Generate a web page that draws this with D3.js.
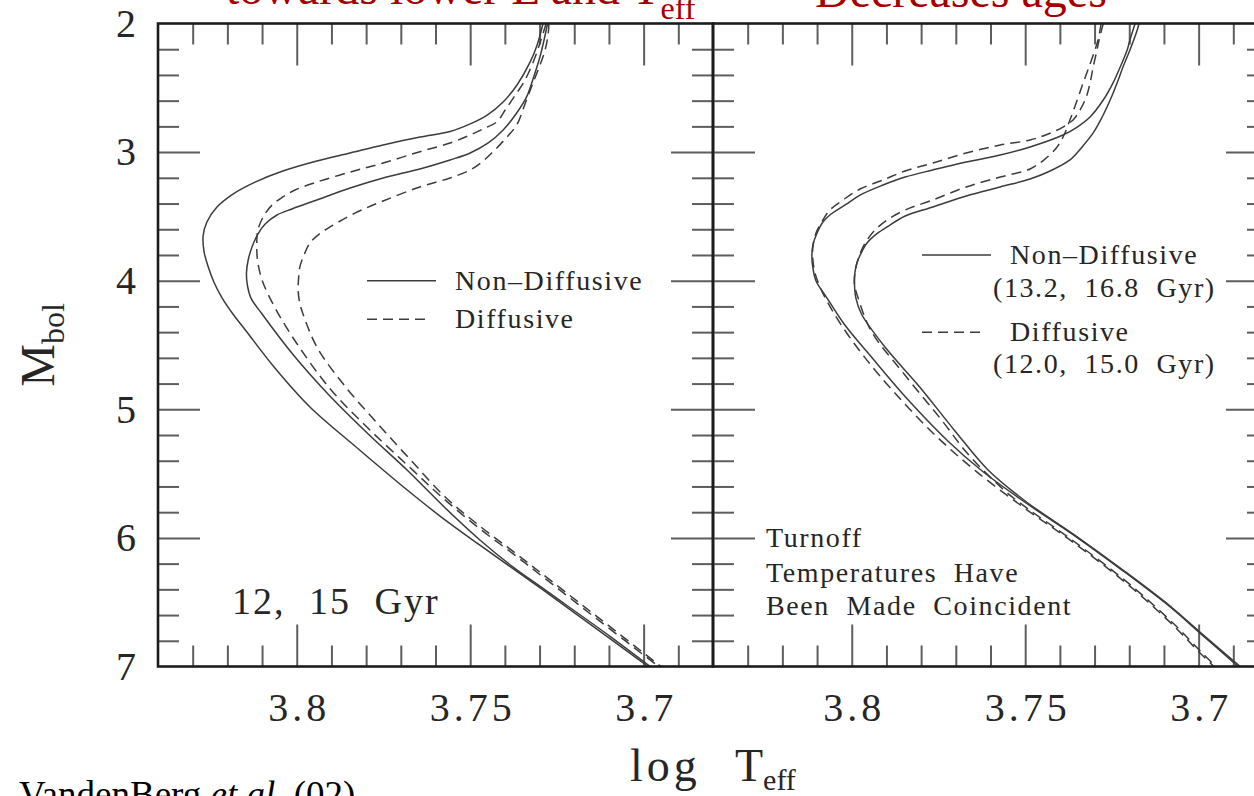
<!DOCTYPE html>
<html>
<head>
<meta charset="utf-8">
<script src="https://cdn.jsdelivr.net/npm/d3@7"></script>
<style>
  html, body { margin: 0; padding: 0; background: #fff; }
  svg { display: block; }
</style>
</head>
<body>
<svg id="chart" width="1254" height="796"></svg>
<script>
// Isochrones as [log Teff, Mbol] pairs, from the giant branch down to the lower main sequence.

// Left panel: 12 and 15 Gyr, non-diffusive vs diffusive
const leftNonDiff12 = [
  [3.7290,2.000],[3.7307,2.167],[3.7327,2.299],[3.7365,2.478],[3.7405,2.610],[3.7451,2.712],
  [3.7500,2.781],[3.7558,2.840],[3.7645,2.883],[3.7751,2.945],[3.7846,3.007],[3.7942,3.069],
  [3.8040,3.147],[3.8120,3.233],[3.8184,3.326],[3.8230,3.427],[3.8259,3.544],[3.8270,3.652],
  [3.8267,3.777],[3.8256,3.886],[3.8239,4.010],[3.8215,4.135],[3.8184,4.259],[3.8146,4.391],
  [3.8063,4.679],[3.7962,4.982],[3.7829,5.293],[3.7685,5.620],[3.7587,5.830],[3.7477,6.047],
  [3.7290,6.405],[3.7103,6.771],[3.6987,7.000]
];
const leftNonDiff15 = [
  [3.7277,2.000],[3.7287,2.128],[3.7299,2.260],[3.7316,2.408],[3.7337,2.569],[3.7368,2.704],
  [3.7405,2.828],[3.7448,2.929],[3.7500,3.007],[3.7558,3.061],[3.7645,3.131],[3.7751,3.201],
  [3.7846,3.279],[3.7942,3.372],[3.8014,3.442],[3.8057,3.489],[3.8091,3.559],[3.8112,3.637],
  [3.8129,3.738],[3.8140,3.839],[3.8145,3.940],[3.8142,4.041],[3.8132,4.135],[3.8100,4.259],
  [3.8012,4.570],[3.7910,4.881],[3.7794,5.192],[3.7682,5.472],[3.7572,5.767],[3.7472,6.016],
  [3.7380,6.219],[3.7284,6.405],[3.7094,6.771],[3.6981,7.000]
];
const leftDiff12 = [
  [3.7281,2.000],[3.7296,2.128],[3.7316,2.284],[3.7345,2.455],[3.7374,2.572],[3.7399,2.673],
  [3.7423,2.764],[3.7463,2.820],[3.7500,2.867],[3.7558,2.929],[3.7645,2.997],[3.7751,3.085],
  [3.7846,3.155],[3.7942,3.233],[3.8005,3.295],[3.8040,3.349],[3.8071,3.411],[3.8097,3.505],
  [3.8112,3.606],[3.8115,3.684],[3.8115,3.777],[3.8112,3.862],[3.8099,4.002],[3.8063,4.209],
  [3.7992,4.520],[3.7899,4.856],[3.7787,5.166],[3.7664,5.477],[3.7582,5.682],[3.7479,5.915],
  [3.7377,6.122],[3.7279,6.327],[3.7131,6.638],[3.6957,7.000]
];
const leftDiff15 = [
  [3.7273,2.000],[3.7275,2.074],[3.7284,2.206],[3.7301,2.338],[3.7319,2.463],[3.7342,2.626],
  [3.7366,2.789],[3.7399,2.898],[3.7434,2.997],[3.7466,3.077],[3.7500,3.139],[3.7558,3.201],
  [3.7645,3.271],[3.7751,3.380],[3.7832,3.474],[3.7904,3.582],[3.7939,3.645],[3.7962,3.707],
  [3.7979,3.800],[3.7991,3.893],[3.7995,3.995],[3.7996,4.072],[3.7992,4.166],[3.7982,4.259],
  [3.7941,4.520],[3.7858,4.830],[3.7766,5.114],[3.7670,5.399],[3.7572,5.682],[3.7469,5.915],
  [3.7368,6.122],[3.7270,6.327],[3.7122,6.638],[3.6950,7.000]
];

// Right panel: same models with turnoff temperatures made coincident
const rightNonDiff132 = [
  [3.7183,2.000],[3.7198,2.128],[3.7206,2.206],[3.7226,2.338],[3.7247,2.463],[3.7275,2.595],
  [3.7313,2.727],[3.7350,2.805],[3.7391,2.867],[3.7486,2.960],[3.7572,3.023],[3.7670,3.077],
  [3.7766,3.139],[3.7846,3.194],[3.7910,3.256],[3.7976,3.334],[3.8019,3.411],[3.8063,3.489],
  [3.8083,3.544],[3.8100,3.629],[3.8112,3.722],[3.8115,3.808],[3.8112,3.901],[3.8103,4.002],
  [3.8072,4.131],[3.8022,4.337],[3.7942,4.598],[3.7843,4.910],[3.7723,5.246],[3.7624,5.480],
  [3.7506,5.713],[3.7348,6.001],[3.7221,6.250],[3.7082,6.537],[3.6996,6.740],[3.6886,7.000]
];
const rightNonDiff168 = [
  [3.7172,2.000],[3.7177,2.051],[3.7198,2.206],[3.7218,2.338],[3.7235,2.463],[3.7255,2.595],
  [3.7278,2.727],[3.7304,2.851],[3.7336,2.960],[3.7371,3.061],[3.7428,3.147],[3.7486,3.209],
  [3.7572,3.271],[3.7670,3.341],[3.7766,3.427],[3.7846,3.497],[3.7898,3.582],[3.7933,3.645],
  [3.7956,3.707],[3.7973,3.785],[3.7985,3.862],[3.7991,3.940],[3.7992,4.033],[3.7988,4.135],
  [3.7972,4.259],[3.7903,4.520],[3.7803,4.830],[3.7703,5.166],[3.7607,5.472],[3.7500,5.713],
  [3.7345,6.001],[3.7218,6.250],[3.7079,6.537],[3.6993,6.740],[3.6880,7.000]
];
const rightDiff120 = [
  [3.7275,2.000],[3.7287,2.128],[3.7293,2.206],[3.7304,2.338],[3.7313,2.463],[3.7324,2.572],
  [3.7342,2.673],[3.7362,2.750],[3.7391,2.805],[3.7434,2.859],[3.7486,2.906],[3.7572,2.945],
  [3.7670,3.007],[3.7766,3.085],[3.7846,3.147],[3.7910,3.217],[3.7976,3.287],[3.8025,3.372],
  [3.8063,3.450],[3.8083,3.528],[3.8103,3.629],[3.8112,3.738],[3.8112,3.839],[3.8106,3.940],
  [3.8094,4.033],[3.8077,4.131],[3.8032,4.337],[3.7962,4.598],[3.7873,4.881],[3.7763,5.192],
  [3.7644,5.477],[3.7504,5.764],[3.7371,6.016],[3.7206,6.358],[3.7077,6.670],[3.6996,6.895],
  [3.6956,7.000]
];
const rightDiff150 = [
  [3.7281,2.000],[3.7290,2.128],[3.7299,2.206],[3.7316,2.338],[3.7333,2.463],[3.7350,2.595],
  [3.7371,2.750],[3.7388,2.867],[3.7408,2.960],[3.7443,3.054],[3.7486,3.131],[3.7572,3.194],
  [3.7670,3.271],[3.7766,3.372],[3.7846,3.450],[3.7898,3.528],[3.7933,3.606],[3.7956,3.684],
  [3.7973,3.769],[3.7985,3.862],[3.7991,3.940],[3.7992,4.033],[3.7982,4.131],[3.7944,4.391],
  [3.7849,4.726],[3.7740,5.087],[3.7665,5.348],[3.7561,5.628],[3.7497,5.764],[3.7365,6.016],
  [3.7200,6.358],[3.7071,6.670],[3.6990,6.895],[3.6950,7.000]
];

// Axis ticks and labels
const tempDomain = [3.84, 3.68];
const magDomain = [2, 7];
const tempMajor = [3.8, 3.75, 3.7];
const tempMinor = [3.83, 3.82, 3.81, 3.79, 3.78, 3.77, 3.76, 3.74, 3.73, 3.72, 3.71, 3.69];
const magLabels = [2, 3, 4, 5, 6, 7];
const magMajor = [3, 4, 5, 6];
const magMinor = [2.2, 2.4, 2.6, 2.8, 3.2, 3.4, 3.6, 3.8, 4.2, 4.4, 4.6, 4.8,
                  5.2, 5.4, 5.6, 5.8, 6.2, 6.4, 6.6, 6.8];

// Layout
const PANEL_W = 555, PANEL_H = 643, TOP = 23.5;
const PANEL_LEFTS = [158, 713];
const SERIF = "'Liberation Serif', 'Times New Roman', serif";
const FRAME = "#1c1c1c", TICK = "#5e5e5e", CURVE = "#3c3c3c", INK = "#262626";
const RED = "#a50000";

const svg = d3.select("#chart");
const x = d3.scaleLinear().domain(tempDomain).range([0, PANEL_W]);
const y = d3.scaleLinear().domain(magDomain).range([0, PANEL_H]);
const line = d3.line()
  .x(d => x(d[0])).y(d => y(d[1]))
  .curve(d3.curveCatmullRom.alpha(0.5));

function tickSet(g, axis, values, size) {
  g.call(axis.tickValues(values).tickSize(size).tickSizeOuter(0).tickFormat(""));
  g.select(".domain").remove();
  g.selectAll(".tick line").attr("stroke", TICK).attr("stroke-width", 2);
}

function drawPanel(left, curves, idx) {
  const g = svg.append("g").attr("transform", `translate(${left},${TOP})`);

  const clipId = "clip" + idx;
  g.append("clipPath").attr("id", clipId)
    .append("rect").attr("width", PANEL_W).attr("height", PANEL_H);

  // inward ticks on all four sides: short minor, long major
  [[-21, tempMinor, magMinor], [-42, tempMajor, magMajor]].forEach(([len, tv, mv]) => {
    tickSet(g.append("g").attr("transform", `translate(0,${PANEL_H})`), d3.axisBottom(x), tv, len);
    tickSet(g.append("g"), d3.axisTop(x), tv, len);
    tickSet(g.append("g"), d3.axisLeft(y), mv, len);
    tickSet(g.append("g").attr("transform", `translate(${PANEL_W},0)`), d3.axisRight(y), mv, len);
  });

  // temperature labels
  const xl = g.append("g").attr("transform", `translate(0,${PANEL_H})`)
    .call(d3.axisBottom(x).tickValues(tempMajor).tickSize(0).tickPadding(26)
      .tickFormat(d => String(+d.toFixed(2))));
  xl.select(".domain").remove();
  xl.selectAll("text").attr("font-family", SERIF).attr("font-size", 40)
    .attr("fill", INK).attr("letter-spacing", 4).attr("dx", 2);

  // isochrones, ordered along Mbol
  const cg = g.append("g").attr("clip-path", `url(#${clipId})`);
  curves.forEach(c => {
    const pts = c.data.slice().sort((a, b) => a[1] - b[1]);
    cg.append("path").datum(pts)
      .attr("d", line)
      .attr("fill", "none")
      .attr("stroke", CURVE)
      .attr("stroke-width", 1.5)
      .attr("stroke-dasharray", c.dashed ? "10,6" : null);
  });

  // frame
  g.append("rect").attr("width", PANEL_W).attr("height", PANEL_H)
    .attr("fill", "none").attr("stroke", FRAME).attr("stroke-width", 2.6);
  return g;
}

const leftG = drawPanel(PANEL_LEFTS[0], [
  { data: leftNonDiff12, dashed: false },
  { data: leftNonDiff15, dashed: false },
  { data: leftDiff12, dashed: true },
  { data: leftDiff15, dashed: true }
], 0);
const rightG = drawPanel(PANEL_LEFTS[1], [
  { data: rightNonDiff132, dashed: false },
  { data: rightNonDiff168, dashed: false },
  { data: rightDiff120, dashed: true },
  { data: rightDiff150, dashed: true }
], 1);

// magnitude labels on the left panel
const yl = leftG.append("g")
  .call(d3.axisLeft(y).tickValues(magLabels).tickSize(0).tickPadding(22).tickFormat(d3.format("d")));
yl.select(".domain").remove();
yl.selectAll("text").attr("font-family", SERIF).attr("font-size", 40).attr("fill", INK);

// legends and notes
function note(g, tx, ty, str, size) {
  return g.append("text").attr("x", tx).attr("y", ty)
    .attr("font-family", SERIF).attr("font-size", size || 28)
    .attr("letter-spacing", 1.6).attr("word-spacing", 8)
    .attr("fill", INK).text(str);
}
function legendLine(g, x1, x2, m, dashed) {
  g.append("line").attr("x1", x1).attr("x2", x2).attr("y1", y(m)).attr("y2", y(m))
    .attr("stroke", CURVE).attr("stroke-width", 1.5)
    .attr("stroke-dasharray", dashed ? "10,6" : null);
}

legendLine(leftG, 209, 278, 4.0, false);
note(leftG, 297, y(4.0) + 9, "Non\u2013Diffusive");
legendLine(leftG, 209, 273, 4.3, true);
note(leftG, 297, y(4.3) + 9, "Diffusive");
note(leftG, 74, 590, "12, 15 Gyr", 38).attr("letter-spacing", 2).attr("word-spacing", 12);

legendLine(rightG, 209, 278, 3.8, false);
note(rightG, 297, y(3.8) + 9, "Non\u2013Diffusive");
note(rightG, 280, y(3.8) + 42, "(13.2, 16.8 Gyr)");
legendLine(rightG, 209, 273, 4.4, true);
note(rightG, 297, y(4.4) + 9, "Diffusive");
note(rightG, 280, y(4.4) + 41, "(12.0, 15.0 Gyr)");
note(rightG, 53, 523.5, "Turnoff");
note(rightG, 53, 558.5, "Temperatures Have");
note(rightG, 53, 591.5, "Been Made Coincident");

// axis titles
const yTitle = svg.append("text")
  .attr("transform", "translate(54,345) rotate(-90)")
  .attr("text-anchor", "middle")
  .attr("font-family", SERIF).attr("fill", INK);
yTitle.append("tspan").attr("font-size", 48).text("M");
yTitle.append("tspan").attr("font-size", 32).attr("dy", 10).text("bol");

const xTitle = svg.append("text")
  .attr("x", 630).attr("y", 781)
  .attr("font-family", SERIF).attr("fill", INK);
xTitle.append("tspan").attr("font-size", 46).attr("letter-spacing", 4).text("log");
xTitle.append("tspan").attr("x", 735).attr("font-size", 46).text("T");
xTitle.append("tspan").attr("font-size", 30).attr("dy", 9).text("eff");

// slide headline (runs off the top edge)
const head1 = svg.append("text").attr("x", 226).attr("y", 4)
  .attr("font-family", SERIF).attr("font-size", 48).attr("fill", RED);
head1.append("tspan").text("towards lower L and T");
head1.append("tspan").attr("font-size", 32).attr("dy", 15).text("eff");
svg.append("text").attr("x", 815).attr("y", 7)
  .attr("font-family", SERIF).attr("font-size", 48).attr("fill", RED)
  .text("Decreases ages");

// citation
const cite = svg.append("text").attr("x", 19).attr("y", 807)
  .attr("font-family", SERIF).attr("font-size", 37).attr("fill", "#000");
cite.append("tspan").text("VandenBerg ");
cite.append("tspan").attr("font-style", "italic").text("et al.");
cite.append("tspan").text(" (02)");
</script>
</body>
</html>
